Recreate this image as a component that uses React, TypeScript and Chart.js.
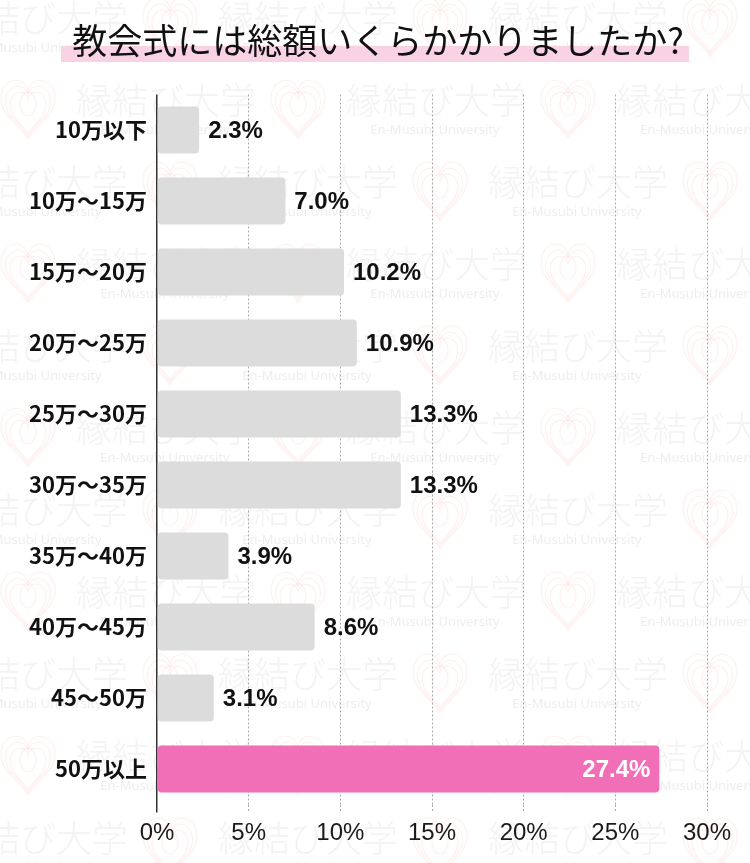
import React, { useEffect, useRef } from 'react';
import { Chart, registerables } from 'chart.js';

Chart.register(...registerables);

const categories = ['10万以下', '10万〜15万', '15万〜20万', '20万〜25万', '25万〜30万', '30万〜35万', '35万〜40万', '40万〜45万', '45〜50万', '50万以上'];
const values = [2.3, 7.0, 10.2, 10.9, 13.3, 13.3, 3.9, 8.6, 3.1, 27.4];
const highlightIndex = 9;
const xTickValues = [0, 5, 10, 15, 20, 25, 30];
const titleText = '教会式には総額いくらかかりましたか?';
const watermarkText = '縁結び大学';
const watermarkSub = 'En-Musubi University';

const GRAY = '#dcdcdc';
const PINK = '#f06fb6';

function heartPath(ctx: CanvasRenderingContext2D, cx: number, cy: number, w: number, h: number) {
  ctx.beginPath();
  ctx.moveTo(cx, cy + h / 2);
  ctx.bezierCurveTo(cx - w * 0.12, cy + h * 0.3, cx - w / 2, cy + h * 0.12, cx - w / 2, cy - h * 0.15);
  ctx.bezierCurveTo(cx - w / 2, cy - h * 0.48, cx - w * 0.08, cy - h * 0.56, cx, cy - h * 0.28);
  ctx.bezierCurveTo(cx + w * 0.08, cy - h * 0.56, cx + w / 2, cy - h * 0.48, cx + w / 2, cy - h * 0.15);
  ctx.bezierCurveTo(cx + w / 2, cy + h * 0.12, cx + w * 0.12, cy + h * 0.3, cx, cy + h / 2);
  ctx.stroke();
}

const backgroundPlugin = {
  id: 'bgWatermarkTitle',
  beforeDraw(chart: any) {
    const { ctx, width, height } = chart;
    ctx.save();
    ctx.fillStyle = '#ffffff';
    ctx.fillRect(0, 0, width, height);
    for (let i = -1; i <= 11; i++) {
      const ty = 18 + 82 * i;
      const x0 = Math.abs(i) % 2 === 1 ? 76 : 218;
      for (let k = -2; k <= 3; k++) {
        const tx = x0 + 270 * k;
        ctx.strokeStyle = 'rgba(238,150,135,0.13)';
        ctx.lineWidth = 1.2;
        const hx = tx - 48;
        const hy = ty + 8;
        heartPath(ctx, hx, hy, 54, 62);
        heartPath(ctx, hx, hy + 2, 45, 53);
        heartPath(ctx, hx, hy + 4, 36, 44);
        ctx.beginPath();
        ctx.ellipse(hx, hy - 4, 8, 12, 0, 0, Math.PI * 2);
        ctx.stroke();
        ctx.font = '300 36px "Noto Sans CJK JP"';
        ctx.fillStyle = '#f3f3f3';
        ctx.textAlign = 'left';
        ctx.textBaseline = 'middle';
        ctx.fillText(watermarkText, tx, ty);
        ctx.font = '13px "Noto Sans"';
        ctx.fillStyle = '#eeeeee';
        ctx.textAlign = 'center';
        ctx.fillText(watermarkSub, tx + 89, ty + 30);
      }
    }
    ctx.fillStyle = '#f9d3e4';
    ctx.fillRect(61, 46, 628, 16);
    ctx.font = '400 35px "Noto Sans CJK JP"';
    ctx.fillStyle = '#111111';
    ctx.textAlign = 'center';
    ctx.textBaseline = 'middle';
    ctx.fillText(titleText, 378, 41);
    ctx.restore();
  },
};

const valueLabelPlugin = {
  id: 'valueLabels',
  afterDatasetsDraw(chart: any) {
    const { ctx } = chart;
    const meta = chart.getDatasetMeta(0);
    ctx.save();
    ctx.font = 'bold 24px "Liberation Sans"';
    ctx.textBaseline = 'middle';
    meta.data.forEach((bar: any, i: number) => {
      const { x, y } = bar.getProps(['x', 'y'], true);
      const label = values[i].toFixed(1) + '%';
      if (i === highlightIndex) {
        ctx.fillStyle = '#ffffff';
        ctx.textAlign = 'right';
        ctx.fillText(label, x - 9, y + 1);
      } else {
        ctx.fillStyle = '#111111';
        ctx.textAlign = 'left';
        ctx.fillText(label, x + 9, y + 1);
      }
    });
    ctx.restore();
  },
};

export default function App() {
  const canvasRef = useRef<HTMLCanvasElement | null>(null);

  useEffect(() => {
    if (!canvasRef.current) return;
    const chart = new Chart(canvasRef.current, {
      type: 'bar',
      data: {
        labels: categories,
        datasets: [
          {
            data: values,
            backgroundColor: values.map((_, i) => (i === highlightIndex ? PINK : GRAY)),
            borderRadius: 4,
            borderSkipped: false,
            barPercentage: 0.66,
            categoryPercentage: 1,
          },
        ],
      },
      options: {
        indexAxis: 'y',
        responsive: false,
        animation: false,
        devicePixelRatio: 1,
        layout: { padding: { top: 94.5, right: 43, left: 0, bottom: 0 } },
        plugins: {
          legend: { display: false },
          tooltip: { enabled: false },
          title: { display: false },
        },
        scales: {
          x: {
            min: 0,
            max: 30,
            afterBuildTicks: (scale: any) => {
              scale.ticks = xTickValues.map((v) => ({ value: v }));
            },
            afterFit: (scale: any) => {
              scale.height = 58.5;
            },
            grid: {
              color: (c: any) => (c.index === 0 ? '#333333' : '#a8a8a8'),
              lineWidth: (c: any) => (c.index === 0 ? 1.5 : 1),
              tickLength: 8,
              tickBorderDash: (c: any) => (c.index === 0 ? [] : [2, 2]),
            },
            border: {
              display: false,
              dash: (c: any) => (c.index === 0 ? [] : [2, 2]),
            },
            ticks: {
              callback: (v: any) => v + '%',
              color: '#1a1a1a',
              padding: 6,
              font: { family: '"Liberation Sans"', size: 24, weight: 'normal' },
            },
          },
          y: {
            afterFit: (scale: any) => {
              scale.width = 157;
            },
            grid: { display: false, drawTicks: false },
            border: { display: false },
            ticks: {
              color: '#111111',
              padding: 10,
              font: { family: '"Noto Sans CJK JP"', size: 22, weight: 'bold' },
            },
          },
        },
      },
      plugins: [backgroundPlugin, valueLabelPlugin],
    } as any);
    return () => chart.destroy();
  }, []);

  return (
    <div style={{ position: 'absolute', left: 0, top: 0, width: 750, height: 863 }}>
      <canvas ref={canvasRef} width={750} height={863} style={{ display: 'block' }} />
    </div>
  );
}
